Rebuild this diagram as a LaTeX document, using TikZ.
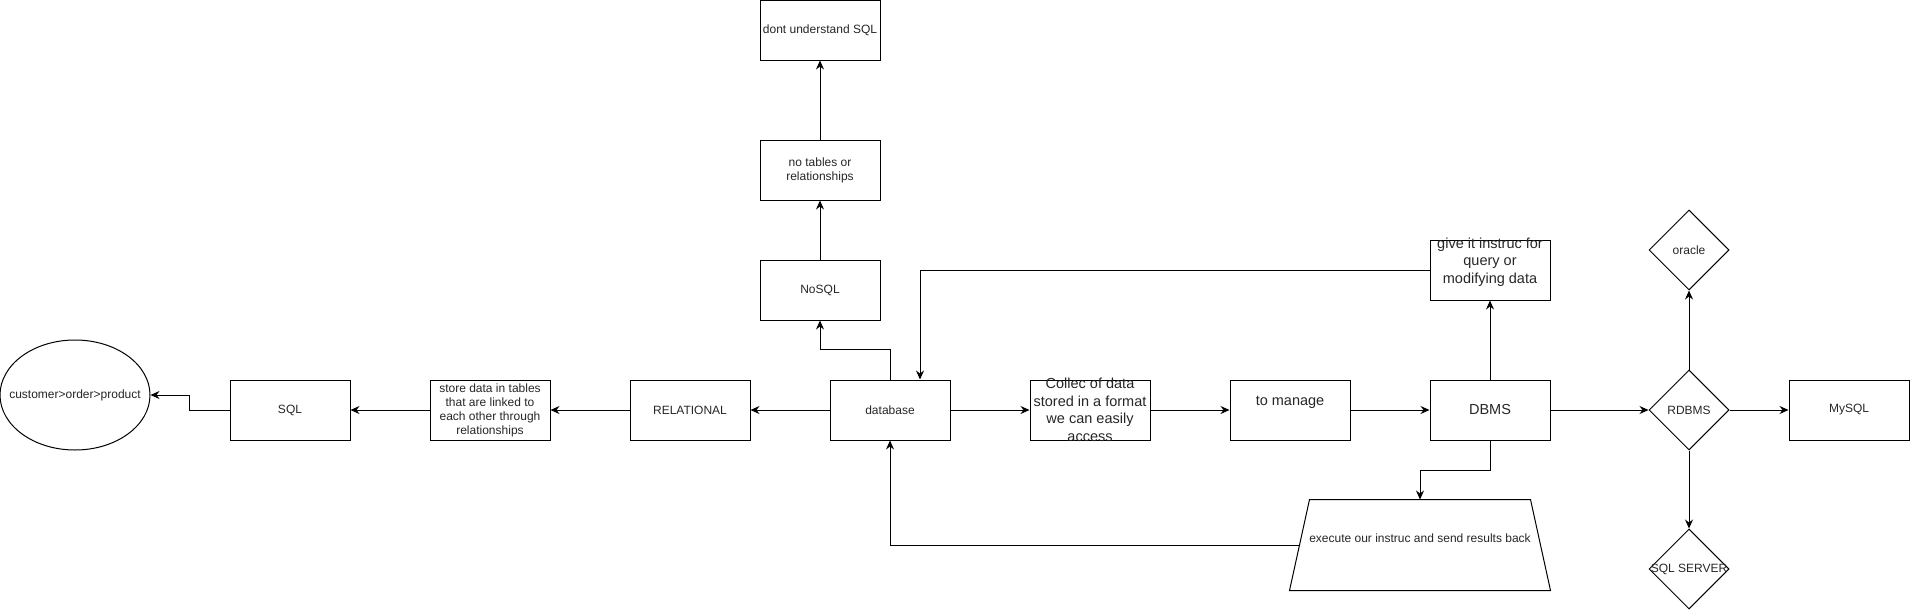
\documentclass[tikz,border=0pt]{standalone}
\usepackage{fontspec}
\setmainfont{Liberation Sans}
\usetikzlibrary{arrows.meta,positioning,shapes.geometric}
\tikzstyle{block}=[draw, rectangle, minimum width=120pt, minimum height=60pt, inner sep=2pt, align=center, font=\fontsize{12}{14}\selectfont]
\tikzstyle{choice}=[draw, diamond, minimum width=80pt, minimum height=80pt, inner sep=0pt, font=\fontsize{12}{14}\selectfont]
\tikzstyle{small}=[font=\fontsize{12}{14}\selectfont, align=center]
\tikzstyle{big}=[font=\fontsize{14.5}{17.5}\selectfont, align=center]

\begin{document}
\begin{tikzpicture}[node distance=200pt, >={Stealth[length=9pt,width=8pt,inset=3pt]}, line width=1pt, text=black!85]
  \useasboundingbox (0pt,0pt) rectangle (1911pt,-611pt);
  % main row
  \node [block] (db) at (890pt,-410pt) {database};
  \node [block, left of=db] (rel) {RELATIONAL};
  \node [block, left of=rel] (store) {store data in tables\\that are linked to\\each other through\\relationships};
  \node [block, left of=store] (sql) {SQL};
  \node [draw, ellipse, minimum width=150pt, minimum height=110pt, inner sep=0pt, node distance=215pt, left of=sql, yshift=15pt, label={[small]center:customer>order>product}] (cust) {};
  \node [block, right of=db, label={[big]center:Collec of data\\stored in a format\\we can easily\\access}] (coll) {};
  \node [block, right of=coll, label={[big, yshift=8pt]center:to manage}] (mng) {};
  \node [block, big, right of=mng] (dbms) {DBMS};
  \node [choice, node distance=199pt, right of=dbms] (rdbms) {RDBMS};
  \node [block, node distance=160pt, right of=rdbms] (mysql) {MySQL};
  % vendors
  \node [choice, node distance=160pt, above of=rdbms] (orcl) {oracle};
  \node [choice, node distance=159pt, below of=rdbms, label={[small]center:SQL SERVER}] (sqlsrv) {};
  % dbms loop
  \node [block, node distance=140pt, above of=dbms, label={[big, yshift=8pt]center:give it instruc for\\query or\\modifying data}] (give) {};
  \node [minimum width=260pt, minimum height=90pt, node distance=135pt, below of=dbms, xshift=-70pt, label={[small, yshift=7pt]center:execute our instruc and send results back}] (exec) {};
  \draw ([xshift=20pt]exec.north west) -- ([xshift=-20pt]exec.north east)
        -- (exec.south east) -- (exec.south west) -- cycle;
  % nosql column
  \node [block, node distance=120pt, above of=db, xshift=-70pt] (nosql) {NoSQL};
  \node [block, node distance=120pt, above of=nosql] (notab) {no tables or\\relationships};
  \node [block, node distance=140pt, above of=notab] (dont) {dont understand SQL};

  \path[->] (db) edge (rel)
            (rel) edge (store)
            (store) edge (sql)
            (db) edge (coll)
            (coll) edge (mng)
            (mng) edge (dbms)
            (dbms) edge (rdbms)
            (rdbms) edge (mysql)
            (rdbms) edge (orcl)
            (rdbms) edge (sqlsrv)
            (dbms) edge (give)
            (nosql) edge (notab)
            (notab) edge (dont);
  \draw[->] (sql.west) -- ++(-40pt,0) |- (cust);
  \draw[->] (db.north) -- ++(0,30pt) -| (nosql.south);
  \draw[->] (give.west) -| ([xshift=30pt]db.north);
  \draw[->] (dbms.south) -- ++(0,-30pt) -| (exec.north);
  \draw[->] ([xshift=10pt]exec.west) -| (db.south);
\end{tikzpicture}
\end{document}
